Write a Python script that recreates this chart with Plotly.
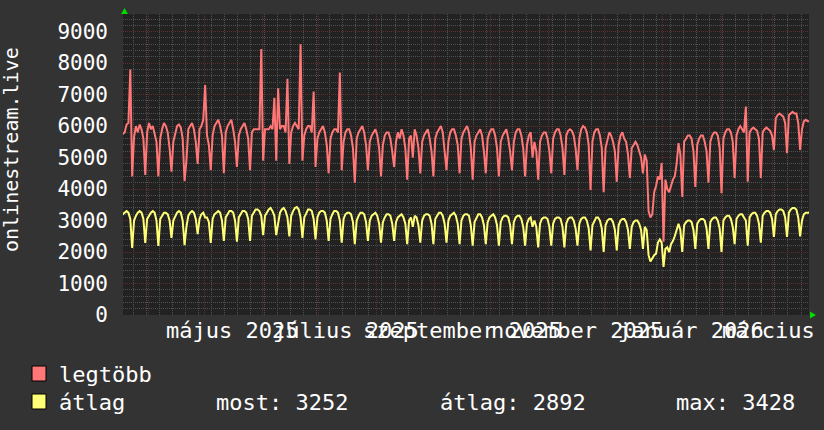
import plotly.graph_objects as go
import pandas as pd

# ---------------- data ----------------
start_monday = "2025-03-17"
# daily maximum ("legtöbb"), one row per week Mon..Sun
max_weeks = [
    [5700, 5750, 5800, 6050, 6100, 7800, 4400],
    [5650, 6000, 5800, 6050, 5900, 5600, 4450],
    [5800, 6100, 5900, 6000, 5700, 5500, 4400],
    [5600, 5900, 6100, 6000, 5800, 5300, 4550],
    [5500, 5800, 6000, 6050, 5950, 5600, 4250],
    [4900, 5900, 6000, 6100, 5900, 5500, 4800],
    [5900, 6000, 6200, 7300, 5700, 5400, 4600],
    [5700, 6000, 6100, 6200, 6000, 5700, 4500],
    [5800, 6000, 6100, 6200, 5900, 5500, 4700],
    [5700, 5900, 6000, 6100, 5900, 5600, 4600],
    [5800, 5900, 5900, 5900, 5900, 8450, 4900],
    [5900, 5900, 5900, 6000, 5900, 6900, 4900],
    [7200, 5900, 6000, 6000, 5800, 7500, 4800],
    [5800, 6000, 6100, 6000, 5900, 8600, 4900],
    [5700, 5900, 6000, 6000, 5800, 7100, 4700],
    [5600, 5800, 5900, 6000, 5800, 5400, 4500],
    [5600, 5800, 5900, 5900, 5800, 7700, 4600],
    [5500, 5800, 5900, 5900, 5700, 5300, 4200],
    [5600, 5800, 5900, 6000, 5800, 5400, 4600],
    [5500, 5700, 5800, 5900, 5700, 5300, 4400],
    [5400, 5700, 5800, 5800, 5600, 5200, 4700],
    [5500, 5800, 5600, 5900, 5700, 5300, 4300],
    [5600, 5700, 5000, 5900, 5700, 5300, 4500],
    [5500, 5700, 5800, 5900, 5600, 5200, 4400],
    [5600, 5800, 5900, 6000, 5800, 5300, 4600],
    [5500, 5800, 5900, 5900, 5700, 5400, 4500],
    [5600, 5800, 5900, 6000, 5800, 5300, 4300],
    [5500, 5700, 5800, 5900, 5700, 5200, 4500],
    [5600, 5800, 5900, 5900, 5700, 5300, 4400],
    [5500, 5700, 5800, 5900, 5600, 5200, 4600],
    [5500, 5800, 5900, 5900, 5700, 5300, 4400],
    [5400, 5700, 5800, 5000, 5500, 5200, 4300],
    [5500, 5700, 5800, 5800, 5600, 5200, 4500],
    [5600, 5800, 5900, 5900, 5700, 5300, 4450],
    [5700, 5850, 5900, 5850, 5700, 5300, 4600],
    [5600, 5900, 6000, 5950, 5800, 5400, 3970],
    [5500, 5800, 5900, 5900, 5700, 5300, 3900],
    [5300, 5600, 5800, 5700, 5500, 5200, 4230],
    [5400, 5700, 5800, 5600, 5500, 5100, 4350],
    [5300, 5400, 5500, 5400, 5200, 5000, 4500],
    [5100, 4900, 3300, 3100, 3200, 3900, 4100],
    [4400, 4300, 4830, 2330, 4300, 4000, 3900],
    [4100, 4300, 4400, 4800, 5460, 5100, 3750],
    [5500, 5600, 5700, 5700, 5600, 5200, 4070],
    [5400, 5600, 5700, 5700, 5500, 5200, 4200],
    [5500, 5700, 5800, 5800, 5700, 5300, 3870],
    [5600, 5800, 5900, 5900, 5800, 5500, 4350],
    [5700, 5900, 6000, 5900, 5800, 6620, 4230],
    [5800, 5900, 5950, 5900, 5850, 5600, 4350],
    [5800, 5900, 5950, 5900, 5850, 5700, 5240],
    [6250, 6350, 6400, 6350, 6300, 6100, 5140],
    [6350, 6400, 6450, 6400, 6400, 6100, 5240],
    [5900, 6150, 6200, 6150, 6150],
]
# daily average ("átlag"), one row per week Mon..Sun
avg_weeks = [
    [3150, 3200, 3250, 3300, 3250, 3050, 2130],
    [3000, 3150, 3250, 3300, 3250, 3050, 2290],
    [3050, 3150, 3250, 3300, 3250, 3000, 2190],
    [3050, 3150, 3250, 3250, 3200, 3000, 2450],
    [3000, 3150, 3250, 3300, 3250, 3000, 2220],
    [2800, 3150, 3250, 3300, 3250, 3050, 2570],
    [3050, 3200, 3250, 3100, 3100, 2950, 2290],
    [3050, 3200, 3250, 3300, 3250, 3000, 2350],
    [3100, 3200, 3300, 3300, 3250, 3000, 2330],
    [3100, 3200, 3300, 3300, 3250, 3050, 2350],
    [3150, 3250, 3350, 3350, 3300, 3150, 2540],
    [3150, 3250, 3350, 3400, 3300, 3150, 2540],
    [2900, 3250, 3350, 3400, 3300, 3100, 2500],
    [3150, 3300, 3400, 3428, 3350, 3100, 2450],
    [3100, 3250, 3350, 3350, 3300, 3050, 2400],
    [3100, 3250, 3300, 3300, 3250, 3000, 2350],
    [3050, 3200, 3300, 3300, 3250, 3000, 2300],
    [3050, 3200, 3250, 3250, 3200, 2950, 2250],
    [3000, 3150, 3250, 3250, 3200, 2950, 2350],
    [3000, 3150, 3200, 3250, 3150, 2900, 2300],
    [2950, 3100, 3200, 3200, 3150, 2900, 2350],
    [2950, 3100, 3150, 3200, 3100, 2900, 2250],
    [3000, 3100, 2800, 3150, 3100, 2850, 2300],
    [3000, 3150, 3200, 3200, 3150, 2900, 2250],
    [3050, 3150, 3250, 3250, 3150, 2900, 2300],
    [3000, 3150, 3200, 3250, 3150, 2900, 2250],
    [3000, 3150, 3200, 3200, 3150, 2850, 2200],
    [2950, 3100, 3200, 3200, 3100, 2850, 2250],
    [2950, 3100, 3150, 3200, 3100, 2850, 2200],
    [2950, 3100, 3150, 3150, 3100, 2850, 2250],
    [2950, 3100, 3150, 3150, 3050, 2800, 2200],
    [2900, 3050, 3100, 2800, 3000, 2800, 2150],
    [2900, 3050, 3100, 3100, 3050, 2800, 2200],
    [2900, 3050, 3100, 3100, 3050, 2800, 2150],
    [2900, 3050, 3100, 3100, 3000, 2750, 2200],
    [2900, 3050, 3100, 3100, 3000, 2750, 2050],
    [2850, 3000, 3100, 3100, 3000, 2750, 2000],
    [2850, 3000, 3050, 3050, 2950, 2700, 2050],
    [2850, 3000, 3050, 3050, 2950, 2700, 2100],
    [2800, 2950, 3000, 3000, 2900, 2700, 2100],
    [2800, 2700, 1900, 1700, 1800, 1900, 1950],
    [2300, 2400, 2300, 1530, 2100, 2150, 2000],
    [2250, 2350, 2500, 2700, 2900, 2700, 2000],
    [2850, 2950, 3000, 3000, 2950, 2700, 2100],
    [2900, 3000, 3050, 3050, 3000, 2750, 2100],
    [2950, 3050, 3100, 3100, 3000, 2750, 2000],
    [3000, 3100, 3150, 3150, 3050, 2800, 2250],
    [3050, 3150, 3200, 3200, 3100, 3000, 2200],
    [3100, 3200, 3250, 3250, 3150, 2900, 2300],
    [3150, 3250, 3300, 3300, 3250, 3050, 2480],
    [3200, 3300, 3350, 3350, 3300, 3100, 2480],
    [3250, 3350, 3400, 3400, 3350, 3100, 2500],
    [3000, 3200, 3250, 3250, 3252],
]
month_starts = ["2025-04-01", "2025-05-01", "2025-06-01", "2025-07-01", "2025-08-01",
                "2025-09-01", "2025-10-01", "2025-11-01", "2025-12-01", "2026-01-01",
                "2026-02-01", "2026-03-01"]
label_dates = ["2025-05-16", "2025-07-16", "2025-09-16", "2025-11-16", "2026-01-16", "2026-03-16"]
label_texts = ["május 2025", "július 2025", "szeptember 2025", "november 2025",
               "január 2026", "március 2026"]
y_ticks = [0, 1000, 2000, 3000, 4000, 5000, 6000, 7000, 8000, 9000]
series_names = ["legtöbb", "átlag"]
legend_stats = ["most: 3252", "átlag: 2892", "max: 3428"]
y_title = "onlinestream.live"

# ---------------- build ----------------
max_vals = [v for w in max_weeks for v in w]
avg_vals = [v for w in avg_weeks for v in w]
dates = pd.date_range(pd.Timestamp(start_monday) + pd.Timedelta(hours=12),
                      periods=len(max_vals), freq="D")

FONT = "DejaVu Sans Mono"
BG = "#333333"
PLOT_BG = "#222222"
RED = "#ff7777"
YEL = "#ffff77"

W, H = 824, 430
L, R, T, B = 123, 15, 14, 115
PW, PH = W - L - R, H - T - B

def px(x):
    return (x - L) / PW

def py(y):
    return (H - B - y) / PH

fig = go.Figure()
fig.add_trace(go.Scatter(x=dates, y=max_vals, mode="lines", line=dict(color=RED, width=2),
                         name=series_names[0], showlegend=False, hoverinfo="skip"))
fig.add_trace(go.Scatter(x=dates, y=avg_vals, mode="lines", line=dict(color=YEL, width=2),
                         name=series_names[1], showlegend=False, hoverinfo="skip"))

x0 = pd.Timestamp("2025-03-18 14:24")
x1 = x0 + pd.Timedelta(days=PW / 1.871)

MAJ = "#5c2d2d"
MIN = "#505050"
fig.update_xaxes(
    type="date", range=[x0, x1], tickvals=month_starts, showticklabels=False,
    showgrid=True, gridcolor=MAJ, griddash="1px,1px", gridwidth=1,
    ticks="", zeroline=False, showline=False,
    minor=dict(dtick=7 * 86400000, tick0="2025-03-24", showgrid=True,
               gridcolor=MIN, griddash="1px,1px", gridwidth=1),
)
fig.update_yaxes(
    range=[0, 9560], tickvals=y_ticks, showgrid=True, gridcolor=MAJ,
    griddash="1px,1px", gridwidth=1, zeroline=False, showline=False, ticks="",
    tickfont=dict(family=FONT, size=21, color="#ffffff"), ticklabelstandoff=14,
    minor=dict(dtick=200, showgrid=True, gridcolor=MIN, griddash="1px,1px", gridwidth=1),
)

ann = []
for d, t in zip(label_dates, label_texts):
    ann.append(dict(x=d, y=py(330), xref="x", yref="paper", text=t, showarrow=False,
                    xanchor="center", yanchor="middle",
                    font=dict(family=FONT, size=22, color="#ffffff")))
ann.append(dict(x=px(11), y=py(150), xref="paper", yref="paper", text=y_title, textangle=-90,
                showarrow=False, xanchor="center", yanchor="middle",
                font=dict(family=FONT, size=20, color="#ffffff")))
ann.append(dict(x=px(57), y=py(374), xref="paper", yref="paper", text=series_names[0],
                showarrow=False, xanchor="left", yanchor="middle",
                font=dict(family=FONT, size=22, color="#ffffff")))
ann.append(dict(x=px(57), y=py(402), xref="paper", yref="paper", text=series_names[1],
                showarrow=False, xanchor="left", yanchor="middle",
                font=dict(family=FONT, size=22, color="#ffffff")))
for xx, t in zip([214, 438, 674], legend_stats):
    ann.append(dict(x=px(xx), y=py(402), xref="paper", yref="paper", text=t,
                    showarrow=False, xanchor="left", yanchor="middle",
                    font=dict(family=FONT, size=22, color="#ffffff")))

shapes = []
for (yy, c) in [(366, RED), (394, YEL)]:
    shapes.append(dict(type="rect", xref="paper", yref="paper",
                       x0=px(32), x1=px(46), y0=py(yy), y1=py(yy + 15),
                       fillcolor=c, line=dict(color="#000000", width=1)))

def tri(pts):
    return "M " + " L ".join(f"{px(a)},{py(b)}" for a, b in pts) + " Z"

shapes.append(dict(type="path", xref="paper", yref="paper", path=tri([(121, 14), (128, 14), (124.5, 8)]),
                   fillcolor="#00dd00", line=dict(width=0)))
shapes.append(dict(type="path", xref="paper", yref="paper", path=tri([(810, 311.5), (810, 318.5), (816, 315)]),
                   fillcolor="#00dd00", line=dict(width=0)))

fig.update_layout(
    width=W, height=H, margin=dict(l=L, r=R, t=T, b=B, pad=0),
    paper_bgcolor=BG, plot_bgcolor=PLOT_BG, showlegend=False,
    annotations=ann, shapes=shapes,
)
fig.write_html("out.html", config={"displayModeBar": False},
               post_script="document.body.style.margin='0';document.body.style.background='#333333';")
